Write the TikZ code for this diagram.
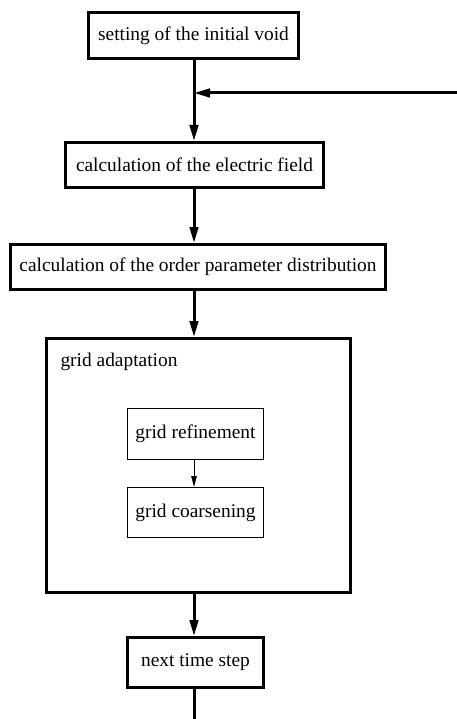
\documentclass[tikz,border=0pt]{standalone}
\usepackage{fontspec}
\setmainfont{Liberation Serif}
\usetikzlibrary{arrows.meta}
\begin{document}
\begin{tikzpicture}[x=1pt,y=1pt,
  font=\fontsize{19.4}{22}\selectfont,
  thickbox/.style={draw, line width=3pt, inner sep=0pt, align=center},
  thinbox/.style={draw, line width=1pt, inner sep=0pt, align=center},
  arr/.style={line width=3pt, -{Triangle[length=16pt,width=8.5pt]}},
  thinarr/.style={line width=1pt, -{Triangle[length=11pt,width=5.5pt]}},
  plain/.style={line width=3pt}]
\useasboundingbox (0,0) rectangle (457,-719);
\fill[white] (0,0) rectangle (457,-719);
\node[thickbox, minimum width=210pt, minimum height=46pt] (init) at (193.5,-35.5) {setting of the initial void};
\node[thickbox, minimum width=258pt, minimum height=45pt] (elec) at (194.5,-165) {calculation of the electric field};
\node[thickbox, minimum width=375pt, minimum height=45pt] (order) at (198,-267) {calculation of the order parameter distribution};
\node[thickbox, minimum width=304pt, minimum height=254pt] (adapt) at (198.5,-465.5) {};
\node[anchor=base west] (adaptlbl) at (57,-366) {grid adaptation};
\node[thinbox, minimum width=136pt, minimum height=51pt] (refine) at (195.5,-434) {grid refinement};
\node[thinbox, minimum width=136pt, minimum height=50pt] (coarse) at (195.5,-512.5) {grid coarsening};
\node[thickbox, minimum width=136pt, minimum height=50pt] (next) at (195.5,-662.5) {next time step};
\coordinate (col) at (194,0);
\coordinate (junc) at (194,-93);
\coordinate (back) at (457,-93);
\coordinate (bottom) at (194,-719);
\draw[arr] (init.south -| col) -- (elec.north -| col);
\draw[arr] (back) -- (junc);
\draw[arr] (elec.south -| col) -- (order.north -| col);
\draw[arr] (order.south -| col) -- (adapt.north -| col);
\draw[thinarr] (refine.south -| col) -- (coarse.north -| col);
\draw[arr] (adapt.south -| col) -- (next.north -| col);
\draw[plain] (next.south -| col) -- (bottom);
\end{tikzpicture}
\end{document}
